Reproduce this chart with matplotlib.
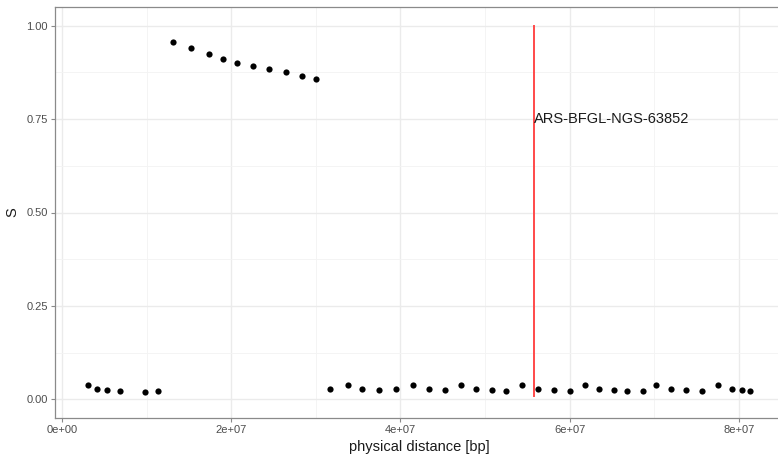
import matplotlib.pyplot as plt
from matplotlib.ticker import MultipleLocator, FuncFormatter

# marker positions (bp) and S values
pos_high = [13.09e6, 15.25e6, 17.34e6, 19.03e6, 20.69e6, 22.58e6, 24.5e6, 26.48e6, 28.37e6, 30.02e6]
s_high = [0.957, 0.941, 0.924, 0.912, 0.901, 0.891, 0.883, 0.875, 0.866, 0.858]

pos_low = [3.07e6, 4.18e6, 5.28e6, 6.86e6, 9.85e6, 11.3e6,
           31.7e6, 33.8e6, 35.5e6, 37.5e6, 39.5e6, 41.5e6, 43.4e6, 45.3e6, 47.2e6,
           48.9e6, 50.8e6, 52.5e6, 54.4e6, 56.3e6, 58.1e6, 60.0e6, 61.8e6, 63.5e6,
           65.2e6, 66.8e6, 68.7e6, 70.2e6, 72.0e6, 73.8e6, 75.6e6, 77.5e6, 79.2e6,
           80.4e6, 81.3e6]
s_low = [0.038, 0.027, 0.024, 0.021, 0.020, 0.021,
         0.028, 0.038, 0.027, 0.024, 0.028, 0.038, 0.028, 0.024, 0.038,
         0.028, 0.024, 0.021, 0.038, 0.028, 0.024, 0.021, 0.038, 0.028,
         0.024, 0.021, 0.021, 0.038, 0.028, 0.024, 0.021, 0.038, 0.028,
         0.024, 0.021]

qtl_pos = 55.75e6
qtl_name = "ARS-BFGL-NGS-63852"

plt.rcParams['font.family'] = ['Liberation Sans', 'DejaVu Sans']

W, H = 778, 455
fig = plt.figure(figsize=(W / 100, H / 100), dpi=100)
# panel: left 55 px, top 7 px, bottom 418 px, right runs past the edge
ax = fig.add_axes([55 / W, (H - 418) / H, (783.6 - 55) / W, (418 - 7) / H])

ax.scatter(pos_low + pos_high, s_low + s_high, s=20, color='black', linewidths=0, zorder=3)
ax.plot([qtl_pos, qtl_pos], [0.01, 1.0], color='#ff4a4a', lw=1.4, zorder=4)
ax.text(qtl_pos, 0.75, qtl_name, ha='left', va='center', fontsize=10.5, color='#1a1a1a', zorder=5)

ax.set_xlim(-0.83e6, 85.3e6)
ax.set_ylim(-0.05, 1.05)

ax.xaxis.set_major_locator(MultipleLocator(2e7))
ax.xaxis.set_minor_locator(MultipleLocator(1e7))
ax.yaxis.set_major_locator(MultipleLocator(0.25))
ax.yaxis.set_minor_locator(MultipleLocator(0.125))


def sci_label(v, _):
    if v == 0:
        return "0e+00"
    exp = len(str(int(abs(v)))) - 1
    return f"{v / 10 ** exp:.0f}e+{exp:02d}"


ax.xaxis.set_major_formatter(FuncFormatter(sci_label))
ax.yaxis.set_major_formatter(FuncFormatter(lambda v, _: f"{v:.2f}"))

ax.grid(which='major', color='#ebebeb', lw=1.0)
ax.grid(which='minor', color='#f3f3f3', lw=0.6)
ax.set_axisbelow(True)

for side in ax.spines.values():
    side.set_color('#8a8a8a')
    side.set_linewidth(0.9)

ax.tick_params(which='major', length=3, width=0.8, color='#8a8a8a', labelsize=8,
               labelcolor='#4d4d4d', pad=2)
ax.tick_params(which='minor', length=0)

ax.set_xlabel("physical distance [bp]", fontsize=10.5, color='#1a1a1a', labelpad=4)
ax.set_ylabel("S", fontsize=10.5, color='#1a1a1a', labelpad=5)

fig.savefig("out.png", dpi=100)
